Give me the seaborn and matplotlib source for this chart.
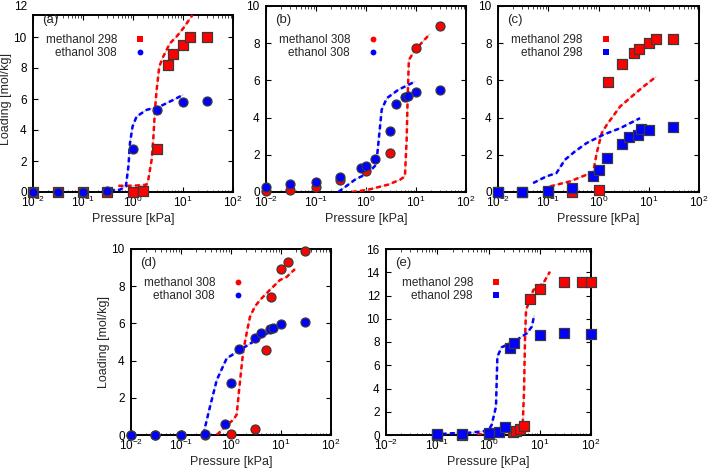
import matplotlib
matplotlib.use("Agg")
import matplotlib.pyplot as plt
import matplotlib.ticker as mticker
from matplotlib.lines import Line2D
import seaborn as sns
import pandas as pd

# ---------------- data ----------------
# panel (a)
a_meoh_p = [0.01, 0.031, 0.1, 0.3, 1.0, 1.6, 3.0, 5.0, 6.3, 10, 14, 30]
a_meoh_q = [0, 0, 0, 0, 0.0, 0.05, 2.8, 8.2, 8.9, 9.5, 10.0, 10.0]
a_etoh_p = [0.01, 0.031, 0.1, 0.3, 1.0, 3.0, 10, 30]
a_etoh_q = [0, 0, 0, 0.05, 2.8, 5.26, 5.8, 5.9]
a_meoh_fit_p = [0.51, 0.8, 1.2, 1.86, 2.02, 2.36, 2.54, 2.75, 2.97, 3.35, 4.02, 5.47, 7.42, 10.1, 15.5]
a_meoh_fit_q = [0.4, 0.4, 0.42, 0.47, 0.79, 2.08, 3.37, 5.3, 6.59, 8.09, 8.73, 9.59, 10.02, 10.56, 11.42]
a_etoh_fit_p = [0.237, 0.348, 0.55, 0.72, 0.81, 0.87, 0.98, 1.18, 1.87, 3.45, 6.37, 10.1]
a_etoh_fit_q = [0, 0.11, 0.15, 0.36, 1.65, 3.15, 4.23, 4.87, 5.30, 5.52, 5.94, 6.27]

# panel (b)
b_meoh_p = [0.01, 0.03, 0.1, 0.3, 1.0, 3.0, 10, 30]
b_meoh_q = [0.03, 0.09, 0.29, 0.63, 1.13, 2.09, 7.73, 8.9]
b_etoh_p = [0.01, 0.03, 0.1, 0.3, 0.79, 1.0, 1.5, 3.0, 4.0, 6.0, 6.8, 10, 30]
b_etoh_q = [0.29, 0.43, 0.55, 0.79, 1.29, 1.41, 1.77, 3.29, 4.72, 5.13, 5.17, 5.37, 5.49]
b_meoh_fit_p = [0.52, 1.1, 2.8, 4.8, 6.0, 6.5, 6.8, 7.2, 9.6, 19]
b_meoh_fit_q = [0, 0.12, 0.4, 0.66, 0.84, 2.8, 5.0, 7.1, 7.64, 8.5]
b_etoh_fit_p = [0.28, 0.6, 1.1, 1.6, 1.77, 2.06, 2.6, 4.4, 9.6]
b_etoh_fit_q = [0, 0.66, 1.02, 1.47, 2.63, 4.42, 5.04, 5.49, 5.94]

# panel (c)
c_meoh_p = [0.01, 0.03, 0.1, 0.3, 1.0, 1.57, 3.0, 5.0, 6.3, 10, 14, 30]
c_meoh_q = [0, 0, 0, 0, 0.09, 5.9, 6.89, 7.46, 7.69, 8.0, 8.21, 8.23]
c_etoh_p = [0.01, 0.03, 0.1, 0.3, 0.79, 1.0, 1.5, 3.0, 4.0, 6.0, 6.9, 10, 30]
c_etoh_q = [0, 0, 0.03, 0.2, 0.84, 1.16, 1.82, 2.58, 2.95, 3.04, 3.38, 3.35, 3.49]
c_meoh_fit_p = [0.108, 0.27, 0.58, 0.79, 0.92, 1.16, 1.46, 2.7, 5.0, 7.85, 14]
c_meoh_fit_q = [0.3, 0.57, 0.93, 1.1, 2.09, 3.17, 3.61, 4.6, 5.22, 5.67, 6.2]
c_etoh_fit_p = [0.05, 0.092, 0.146, 0.214, 0.34, 0.58, 1.25, 2.7, 6.7]
c_etoh_fit_q = [0.48, 0.84, 1.02, 1.73, 2.18, 2.63, 3.08, 3.43, 3.97]

# panel (d)
d_meoh_p = [0.01, 0.03, 0.1, 0.3, 1.0, 3.0, 5.0, 6.3, 10, 13.5, 30]
d_meoh_q = [0, 0, 0, 0, 0.04, 0.32, 4.57, 7.44, 8.94, 9.28, 9.89]
d_etoh_p = [0.01, 0.03, 0.1, 0.3, 0.76, 1.0, 1.47, 3.0, 4.0, 6.0, 7.0, 10, 30]
d_etoh_q = [0, 0, 0, 0.05, 0.61, 2.81, 4.64, 5.23, 5.48, 5.71, 5.75, 5.95, 6.09]
d_meoh_fit_p = [0.52, 0.82, 1.11, 1.3, 1.45, 1.6, 1.77, 2.1, 2.4, 3.0, 3.8, 6.0, 9.5, 13, 19]
d_meoh_fit_q = [0.0, 0.54, 0.81, 1.1, 2.4, 3.5, 4.57, 5.6, 6.36, 6.9, 7.26, 7.8, 8.33, 8.5, 8.92]
d_etoh_fit_p = [0.28, 0.38, 0.52, 0.82, 1.51, 2.8, 6.0]
d_etoh_fit_q = [0.04, 1.52, 2.96, 4.12, 4.57, 5.02, 5.55]

# panel (e)
e_meoh_p = [0.1, 0.3, 1.0, 3.0, 3.5, 4.1, 5.0, 6.5, 10, 30, 67, 100]
e_meoh_q = [0, 0, 0.05, 0.25, 0.35, 0.5, 0.78, 11.73, 12.6, 13.13, 13.19, 13.13]
e_etoh_p = [0.1, 0.3, 1.0, 1.6, 2.1, 2.6, 3.2, 10, 30, 100]
e_etoh_q = [0.06, 0.09, 0.2, 0.29, 0.66, 7.45, 7.88, 8.63, 8.8, 8.71]
e_meoh_fit_p = [0.59, 1.67, 3.55, 4.65, 4.94, 5.15, 5.4, 7.5, 11.7, 15.8]
e_meoh_fit_q = [0.06, 0.15, 0.43, 0.86, 3.87, 8.17, 10.75, 12.47, 13.05, 14.05]
e_etoh_fit_p = [0.084, 0.2, 0.44, 0.79, 1.0, 1.15, 1.4, 1.49, 1.8, 3.55, 5.6, 7.0, 7.8]
e_etoh_fit_q = [0.05, 0.15, 0.2, 0.32, 0.4, 0.86, 2.44, 6.74, 7.54, 8.17, 8.75, 9.32, 10.3]

panel_tags = ["(a)", "(b)", "(c)", "(d)", "(e)"]
meoh_labels = ["methanol 298", "methanol 308", "methanol 298", "methanol 308", "methanol 298"]
etoh_labels = ["ethanol 308", "ethanol 308", "ethanol 298", "ethanol 308", "ethanol 298"]
meoh_markers = ["s", "o", "s", "o", "s"]
etoh_markers = ["o", "o", "s", "o", "s"]
y_max = [12, 10, 10, 10, 16]
x_ticks = [1e-2, 1e-1, 1e0, 1e1, 1e2]
x_label = "Pressure [kPa]"
y_label = "Loading [mol/kg]"

# ---------------- style ----------------
sns.set_style("ticks")
plt.rcParams["font.family"] = ["Liberation Sans", "DejaVu Sans"]
plt.rcParams["mathtext.fontset"] = "custom"
plt.rcParams["mathtext.rm"] = "Liberation Sans"
plt.rcParams["mathtext.it"] = "Liberation Sans:italic"
plt.rcParams["mathtext.bf"] = "Liberation Sans:bold"
plt.rcParams["font.size"] = 8.5

RED = "#ff0000"
BLUE = "#0000ff"
EDGE = "#3a3a3a"
FS = 8.5

fig = plt.figure(figsize=(7.09, 4.69), dpi=100)
W, H = 709, 469
boxes = [(33, 6, 233, 192), (266, 6, 466, 192), (498, 6, 699, 192),
         (131, 249, 331, 435), (386, 249, 591, 435)]

panels = [
    (a_meoh_p, a_meoh_q, a_etoh_p, a_etoh_q, a_meoh_fit_p, a_meoh_fit_q, a_etoh_fit_p, a_etoh_fit_q),
    (b_meoh_p, b_meoh_q, b_etoh_p, b_etoh_q, b_meoh_fit_p, b_meoh_fit_q, b_etoh_fit_p, b_etoh_fit_q),
    (c_meoh_p, c_meoh_q, c_etoh_p, c_etoh_q, c_meoh_fit_p, c_meoh_fit_q, c_etoh_fit_p, c_etoh_fit_q),
    (d_meoh_p, d_meoh_q, d_etoh_p, d_etoh_q, d_meoh_fit_p, d_meoh_fit_q, d_etoh_fit_p, d_etoh_fit_q),
    (e_meoh_p, e_meoh_q, e_etoh_p, e_etoh_q, e_meoh_fit_p, e_meoh_fit_q, e_etoh_fit_p, e_etoh_fit_q),
]


def fit_line(ax, p, q, color):
    df = pd.DataFrame({"p": p, "q": q})
    sns.lineplot(data=df, x="p", y="q", ax=ax, color="#c8c8c8", lw=0.8,
                 sort=False, estimator=None, zorder=2)
    sns.lineplot(data=df, x="p", y="q", ax=ax, color=color, lw=1.8,
                 sort=False, estimator=None, dashes=False, zorder=3,
                 linestyle=(0, (2.0, 1.3)))


for i, (box, data) in enumerate(zip(boxes, panels)):
    l, t, r, b = box
    ax = fig.add_axes([l / W, 1 - b / H, (r - l) / W, (b - t) / H])
    mp, mq, ep, eq, mfp, mfq, efp, efq = data

    sns.scatterplot(x=mp, y=mq, ax=ax, marker=meoh_markers[i], color=RED, s=42,
                    edgecolor=EDGE, linewidth=0.9, zorder=4, clip_on=False)
    sns.scatterplot(x=ep, y=eq, ax=ax, marker=etoh_markers[i], color=BLUE, s=42,
                    edgecolor=EDGE, linewidth=0.9, zorder=5, clip_on=False)
    fit_line(ax, mfp, mfq, RED)
    fit_line(ax, efp, efq, BLUE)

    ax.set_xscale("log")
    ax.set_xlim(1e-2, 1e2)
    ax.set_ylim(0, y_max[i])
    ax.set_xticks(x_ticks)
    ax.xaxis.set_minor_locator(mticker.LogLocator(base=10, subs=range(2, 10), numticks=20))
    ax.xaxis.set_minor_formatter(mticker.NullFormatter())
    ax.set_yticks(range(0, y_max[i] + 1, 2))

    ax.tick_params(which="major", direction="in", length=3.5, width=0.8,
                   top=True, right=True, labelsize=FS, colors="black")
    ax.tick_params(axis="x", which="major", pad=2)
    ax.tick_params(axis="y", which="major", pad=4.5)
    ax.tick_params(which="minor", direction="in", length=1.8, width=0.6,
                   top=True, right=False)
    ax.tick_params(axis="y", which="minor", left=False, right=False)
    for sp in ax.spines.values():
        sp.set_linewidth(1.4)
        sp.set_color("black")

    if i == 0:
        # frame of panel (a) closes slightly below the 12 tick
        top_val = 11.42
        ax.spines["top"].set_position(("data", top_val))
        ax.spines["left"].set_bounds(0, top_val)
        ax.spines["right"].set_bounds(0, top_val)
        last = ax.yaxis.get_major_ticks()[-1]
        last.tick1line.set_visible(False)
        last.tick2line.set_visible(False)

    ax.set_xlabel(x_label, fontsize=9, labelpad=2.5)
    if i in (0, 3):
        ax.set_ylabel(y_label, fontsize=9, labelpad=1)
    else:
        ax.set_ylabel("")

    ax.text(0.045, 0.925, panel_tags[i], transform=ax.transAxes,
            fontsize=9.5, ha="left", va="center")

    handles = [
        Line2D([], [], ls="none", marker=meoh_markers[i], color=RED, markersize=4.2,
               markeredgewidth=0),
        Line2D([], [], ls="none", marker=etoh_markers[i], color=BLUE, markersize=4.2,
               markeredgewidth=0),
    ]
    ax.legend(handles, [meoh_labels[i], etoh_labels[i]], markerfirst=False,
              frameon=False, loc="upper right", bbox_to_anchor=(0.565, 0.85),
              fontsize=FS, handlelength=1.0, handletextpad=1.45,
              labelspacing=0.1, borderpad=0, borderaxespad=0)

fig.savefig("out.png", dpi=100)
